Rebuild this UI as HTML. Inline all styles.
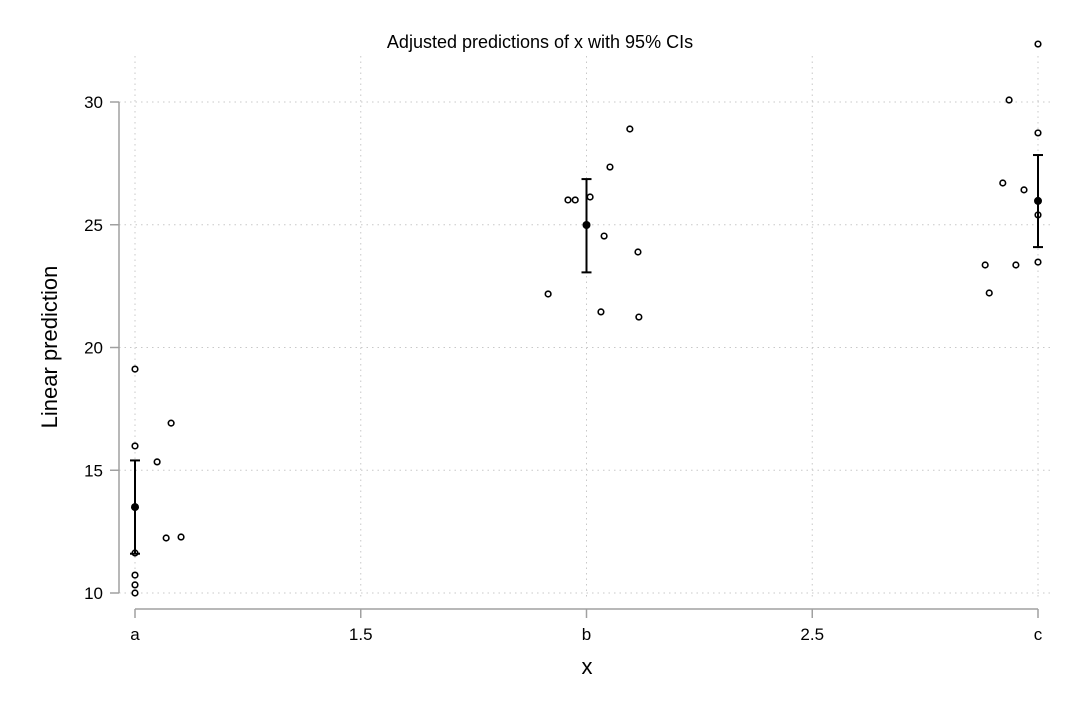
<!DOCTYPE html>
<html><head><meta charset="utf-8"><style>
body{margin:0;background:#fff}
svg text{font-family:"Liberation Sans",sans-serif;fill:#000}
</style></head><body>
<svg id="chart" width="1079" height="719" xmlns="http://www.w3.org/2000/svg">
<text x="540" y="48" font-size="18" text-anchor="middle">Adjusted predictions of x with 95% CIs</text>
<text x="0" y="0" font-size="22" text-anchor="middle" transform="translate(57,347) rotate(-90)">Linear prediction</text>
<text x="587" y="674" font-size="22" text-anchor="middle">x</text>
<g id="grid"></g><g id="axes"></g><g id="marks"></g>
</svg>
<script>
const xTicks=[1,1.5,2,2.5,3];
const xTickLabels=["a","1.5","b","2.5","c"];
const yTicks=[10,15,20,25,30];
const meanX=[1,2,3];
const meanY=[13.5,24.99,25.97];
const ciLow=[11.6,23.06,24.09];
const ciHigh=[15.4,26.86,27.84];
const ptX=[1,1,1.08,1.049,1.069,1.102,1,1,1,1,
 1.915,1.959,1.975,2.008,2.052,2.096,2.039,2.114,2.032,2.116,
 3,2.936,3,2.922,2.969,3,2.883,2.951,3,2.892];
const ptY=[19.12,15.99,16.92,15.34,12.24,12.28,11.63,10.73,10.33,10.0,
 22.18,26.01,26.01,26.13,27.35,28.9,24.54,23.89,21.45,21.24,
 32.36,30.08,28.74,26.70,26.42,25.40,23.36,23.36,23.48,22.22];
const X=v=>135+(v-1)*451.5;
const Y=v=>593-(v-10)*24.55;
const NS="http://www.w3.org/2000/svg";
function mk(p,t,a){const e=document.createElementNS(NS,t);for(const k in a)e.setAttribute(k,a[k]);p.appendChild(e);return e;}
const grid=document.getElementById('grid'),axes=document.getElementById('axes'),marks=document.getElementById('marks');
yTicks.forEach(t=>{
 const l=mk(grid,'line',{x1:119,x2:1052,y1:Y(t),y2:Y(t),stroke:'#c8c8c8','stroke-width':1,'stroke-dasharray':'1.5 4'});
 
 
 const tk=mk(axes,'line',{x1:110,x2:119,y1:Y(t),y2:Y(t),stroke:'#a0a0a0','stroke-width':1.5});
 
 
 const tx=mk(axes,'text',{x:103,y:Y(t)+6,'font-size':17,'text-anchor':'end'});tx.textContent=t;
 
 
});
xTicks.forEach((t,i)=>{
 const l=mk(grid,'line',{x1:X(t),x2:X(t),y1:56,y2:600,stroke:'#c8c8c8','stroke-width':1,'stroke-dasharray':'1.5 4'});
 
 
 const tk=mk(axes,'line',{x1:X(t),x2:X(t),y1:609,y2:618,stroke:'#a0a0a0','stroke-width':1.5});
 
 
 const tx=mk(axes,'text',{x:X(t),y:640,'font-size':17,'text-anchor':'middle'});tx.textContent=xTickLabels[i];
 
 
});
const ya=mk(axes,'line',{x1:119,x2:119,y1:Y(30),y2:Y(10),stroke:'#a0a0a0','stroke-width':1.5});


const xa=mk(axes,'line',{x1:X(1),x2:X(3),y1:609,y2:609,stroke:'#a0a0a0','stroke-width':1.5});


ptX.forEach((v,i)=>{
 const c=mk(marks,'circle',{cx:X(v),cy:Y(ptY[i]),r:2.8,fill:'#fff',stroke:'#000','stroke-width':1.6});
 
 
});
meanX.forEach((v,i)=>{
 const x=X(v);
 const g=mk(marks,'g',{});
 
 
 mk(g,'line',{x1:x,x2:x,y1:Y(ciHigh[i]),y2:Y(ciLow[i]),stroke:'#000','stroke-width':2});
 mk(g,'line',{x1:x-5,x2:x+5,y1:Y(ciHigh[i]),y2:Y(ciHigh[i]),stroke:'#000','stroke-width':2});
 mk(g,'line',{x1:x-5,x2:x+5,y1:Y(ciLow[i]),y2:Y(ciLow[i]),stroke:'#000','stroke-width':2});
 const m=mk(marks,'circle',{cx:x,cy:Y(meanY[i]),r:4,fill:'#000'});
 
 
});
</script>
</body></html>
